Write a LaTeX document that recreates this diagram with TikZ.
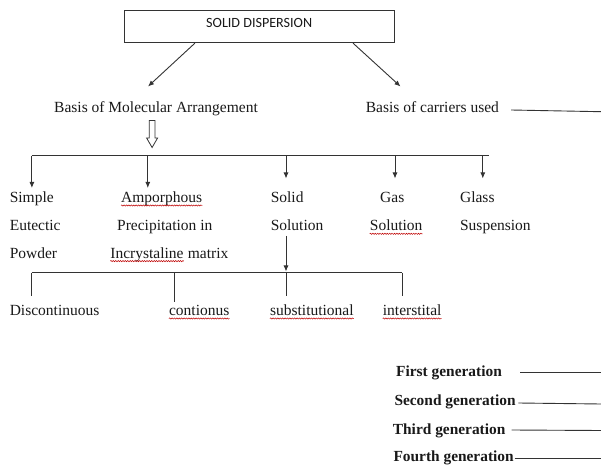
\documentclass[tikz,border=0pt]{standalone}
\usepackage{fontspec}
\setmainfont{Liberation Serif}
\newfontfamily\boxfont{Carlito}
\usetikzlibrary{arrows.meta,calc,decorations.pathmorphing}
\begin{document}
\begin{tikzpicture}[x=1bp,y=-1bp,
  lbl/.style={anchor=base west,inner sep=0pt,text=black!90,font=\fontsize{15.5bp}{18bp}\selectfont},
  gen/.style={anchor=base west,inner sep=0pt,text=black!90,font=\fontsize{15.4bp}{18bp}\selectfont\bfseries},
  conn/.style={line width=0.9bp,draw=black!80},
  arr/.style={conn,-{Latex[length=6bp,width=5bp]}},
  spell/.style={draw=red!75!black,line width=0.5bp,decorate,decoration={snake,amplitude=0.6bp,segment length=2.4bp}}]
\useasboundingbox[fill=white] (0,0) rectangle (601,465);

% top box
\node[draw=black!80,line width=0.9bp,minimum width=270.3bp,minimum height=32.7bp,inner sep=0pt,
  text height=9.1bp,text depth=7.3bp,text=black!90,font=\boxfont\fontsize{14.1bp}{16bp}\selectfont]
  (box) at (259.2,26.35) {SOLID DISPERSION};

% second level
\node[lbl] (mol) at (54,113) {Basis of Molecular Arrangement};
\node[lbl] (car) at (365.7,113) {Basis of carriers used};
\coordinate (molT) at (148,86.5);
\coordinate (carT) at (400.5,86.5);
\draw[arr] ($(box.south west)!0.263!(box.south east)$) -- (molT);
\draw[arr] ($(box.south west)!0.846!(box.south east)$) -- (carT);
\coordinate (carLa) at (511,110);
\coordinate (carLb) at (601,111.7);
\draw[conn] (carLa) -- (carLb);

% hollow arrow
\draw[draw=black!80,line width=0.8bp,fill=white] (149.2,120.5) -- (155,120.5) -- (155,138) -- (157.6,138)
  -- (152.1,147.5) -- (146.6,138) -- (149.2,138) -- cycle;

% first bus
\coordinate (b1L) at (31.9,155.7);
\coordinate (b1R) at (489.3,155.7);
\draw[conn] (b1L) -- (b1R);
\foreach \x/\t [count=\i] in {31.9/188,147.8/188,286/178.5,395/178.5,482.8/178.5}{
  \coordinate (d\i a) at (\x,155.7);
  \coordinate (d\i b) at (\x,\t);
  \draw[arr] (d\i a) -- (d\i b);
}

% third level texts
\node[lbl] (simple) at (9.6,202.7) {Simple};
\node[lbl] (eutectic) at (9.6,231) {Eutectic};
\node[lbl] (powder) at (9.6,258.3) {Powder};
\node[lbl] (amp) at (121,202.7) {Amporphous};
\node[lbl] (precip) at (117,231) {Precipitation in};
\node[lbl] (incr) at (110.2,258.3) {Incrystaline};
\node[lbl] (matrix) at ([xshift=3.9bp]incr.base east) {matrix};
\node[lbl] (solid) at (270.6,202.7) {Solid};
\node[lbl] (solsol) at (270.6,231) {Solution};
\node[lbl] (gas) at (380,202.7) {Gas};
\node[lbl] (gassol) at (369.7,231) {Solution};
\node[lbl] (glass) at (459.9,202.7) {Glass};
\node[lbl] (susp) at (459.9,231) {Suspension};

% from Solid Solution down
\coordinate (ssA) at (286,236);
\coordinate (ssB) at (286,271.5);
\draw[arr] (ssA) -- (ssB);

% second bus
\coordinate (b2L) at (31.9,272.7);
\coordinate (b2R) at (402.3,272.7);
\draw[conn] (b2L) -- (b2R);
\coordinate (e1b) at (31.9,296);
\coordinate (e2a) at (174.7,272.7);
\coordinate (e2b) at (174.7,302);
\coordinate (e3a) at (286,272.7);
\coordinate (e3b) at (286,296);
\coordinate (e4b) at (402.3,296);
\draw[conn] (b2L) -- (e1b);
\draw[conn] (e2a) -- (e2b);
\draw[conn] (e3a) -- (e3b);
\draw[conn] (b2R) -- (e4b);

\node[lbl] (disc) at (9.6,315.7) {Discontinuous};
\node[lbl] (cont) at (168.9,315.7) {contionus};
\node[lbl] (subst) at (269.9,315.7) {substitutional};
\node[lbl] (inter) at (382.7,315.7) {interstital};

% spelling marks
\foreach \n in {amp,incr,gassol,cont,subst,inter}{
  \draw[spell] ([yshift=-2.8bp]\n.base west) -- ([yshift=-2.8bp]\n.base east);
}

% generations
\node[gen] (g1) at (396,376) {First generation};
\node[gen] (g2) at (394.3,405.3) {Second generation};
\node[gen] (g3) at (392.7,434.5) {Third generation};
\node[gen] (g4) at (393.3,461.6) {Fourth generation};
\coordinate (g1a) at (520,372);   \coordinate (g1b) at (601,372);
\coordinate (g2a) at (518.3,403); \coordinate (g2b) at (601,404);
\coordinate (g3a) at (511.7,430); \coordinate (g3b) at (601,430.5);
\coordinate (g4a) at (514.5,458); \coordinate (g4b) at (601,458);
\draw[conn] (g1a) -- (g1b);
\draw[conn] (g2a) -- (g2b);
\draw[conn] (g3a) -- (g3b);
\draw[conn] (g4a) -- (g4b);
\end{tikzpicture}
\end{document}
